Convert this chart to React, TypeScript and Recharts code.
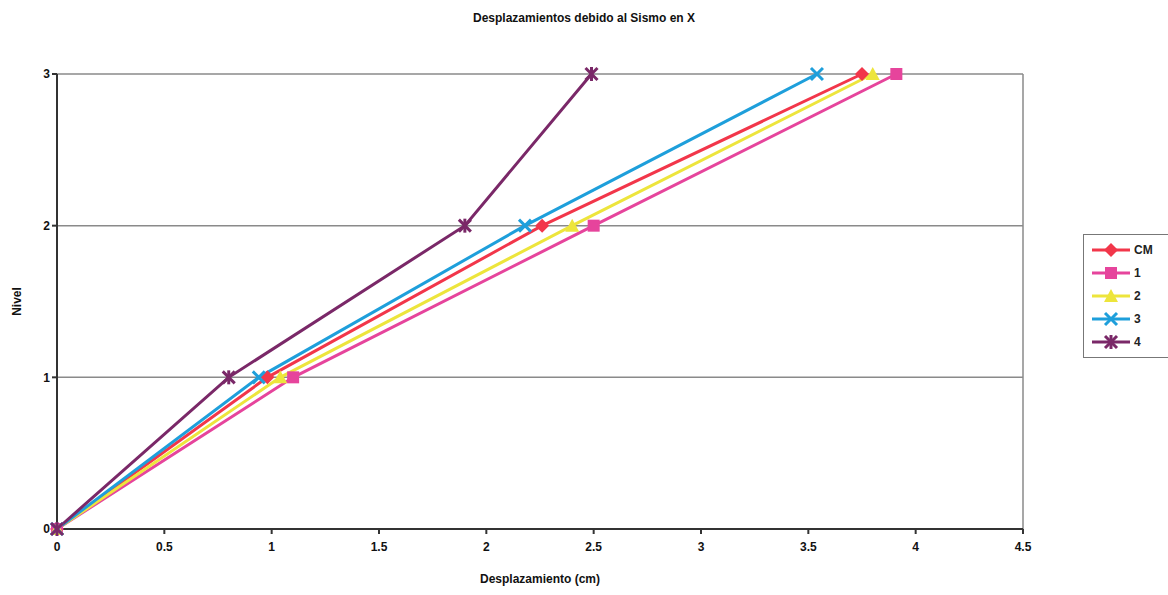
import React from 'react';
import { LineChart, Line, XAxis, YAxis, CartesianGrid, ReferenceLine, Label } from 'recharts';

const levels = [0, 1, 2, 3];
const cmValues = [0, 0.98, 2.26, 3.75];
const s1Values = [0, 1.1, 2.5, 3.91];
const s2Values = [0, 1.04, 2.4, 3.8];
const s3Values = [0, 0.94, 2.18, 3.54];
const s4Values = [0, 0.8, 1.9, 2.49];
const xTicks = [0, 0.5, 1, 1.5, 2, 2.5, 3, 3.5, 4, 4.5];

const toPoints = (vals: number[]) => vals.map((v, i) => ({ x: v, y: levels[i] }));

const series = [
  { name: 'CM', data: toPoints(cmValues), color: '#F2364A', marker: 'diamond' },
  { name: '1', data: toPoints(s1Values), color: '#E6449C', marker: 'square' },
  { name: '2', data: toPoints(s2Values), color: '#EDE53C', marker: 'triangle' },
  { name: '3', data: toPoints(s3Values), color: '#1E9FDB', marker: 'cross' },
  { name: '4', data: toPoints(s4Values), color: '#7A2868', marker: 'star' },
];

const font = '"Liberation Sans", Arial, sans-serif';

const Marker = ({ cx, cy, type, color }: { cx: number; cy: number; type: string; color: string }) => {
  if (cx == null || cy == null) return null;
  switch (type) {
    case 'diamond':
      return <polygon points={`${cx},${cy - 7} ${cx + 7},${cy} ${cx},${cy + 7} ${cx - 7},${cy}`} fill={color} />;
    case 'square':
      return <rect x={cx - 6} y={cy - 6} width={12} height={12} fill={color} />;
    case 'triangle':
      return <polygon points={`${cx},${cy - 7} ${cx + 7},${cy + 6} ${cx - 7},${cy + 6}`} fill={color} />;
    case 'cross':
      return (
        <g stroke={color} strokeWidth={3}>
          <line x1={cx - 6} y1={cy - 6} x2={cx + 6} y2={cy + 6} />
          <line x1={cx - 6} y1={cy + 6} x2={cx + 6} y2={cy - 6} />
        </g>
      );
    default:
      return (
        <g stroke={color} strokeWidth={3}>
          <line x1={cx - 6} y1={cy - 6} x2={cx + 6} y2={cy + 6} />
          <line x1={cx - 6} y1={cy + 6} x2={cx + 6} y2={cy - 6} />
          <line x1={cx} y1={cy - 7} x2={cx} y2={cy + 7} />
        </g>
      );
  }
};

const LegendBox = () => (
  <div
    style={{
      position: 'absolute',
      left: 1083,
      top: 234,
      border: '1px solid #777',
      background: '#fff',
      padding: '3px 4px 4px 6px',
      width: 90,
      fontFamily: font,
      fontSize: 12,
      fontWeight: 'bold',
      color: '#222',
    }}
  >
    {series.map((s) => (
      <div key={s.name} style={{ display: 'flex', alignItems: 'center', height: 23 }}>
        <svg width={42} height={16}>
          <line x1={2} y1={8} x2={40} y2={8} stroke={s.color} strokeWidth={3} />
          <Marker cx={21} cy={8} type={s.marker} color={s.color} />
        </svg>
        <span style={{ marginLeft: 2 }}>{s.name}</span>
      </div>
    ))}
  </div>
);

export default function App() {
  return (
    <div style={{ position: 'absolute', left: 0, top: 0, width: 1168, height: 595, background: '#fff' }}>
      <div
        style={{
          position: 'absolute',
          top: 11,
          width: 1168,
          textAlign: 'center',
          fontFamily: font,
          fontWeight: 'bold',
          fontSize: 12,
          color: '#111',
        }}
      >
        Desplazamientos debido al Sismo en X
      </div>
      <LineChart width={1168} height={595} margin={{ top: 74, right: 145, left: 27, bottom: 36 }}>
        <CartesianGrid vertical={false} stroke="#8a8a8a" strokeWidth={1.5} />
        <ReferenceLine x={4.5} stroke="#8a8a8a" strokeWidth={1.5} />
        <XAxis
          type="number"
          dataKey="x"
          domain={[0, 4.5]}
          ticks={xTicks}
          height={30}
          stroke="#333"
          strokeWidth={2}
          tickSize={5}
          tick={{ fill: '#111', fontSize: 12, fontFamily: font, fontWeight: 'bold' }}
          tickMargin={8}
        >
          <Label
            value="Desplazamiento (cm)"
            position="insideBottom"
            offset={-24}
            style={{ fill: '#111', fontSize: 12, fontFamily: font, fontWeight: 'bold' }}
          />
        </XAxis>
        <YAxis
          type="number"
          dataKey="y"
          domain={[0, 3]}
          ticks={levels}
          width={30}
          stroke="#333"
          strokeWidth={2}
          tickSize={5}
          tick={{ fill: '#111', fontSize: 12, fontFamily: font, fontWeight: 'bold' }}
        >
          <Label
            value="Nivel"
            angle={-90}
            position="insideLeft"
            offset={-10}
            style={{ fill: '#111', fontSize: 12, fontFamily: font, fontWeight: 'bold', textAnchor: 'middle' }}
          />
        </YAxis>
        {series.map((s) => (
          <Line
            key={s.name}
            data={s.data}
            dataKey="y"
            name={s.name}
            type="linear"
            stroke={s.color}
            strokeWidth={3}
            isAnimationActive={false}
            dot={(p: any) => <Marker key={`${s.name}-${p.index}`} cx={p.cx} cy={p.cy} type={s.marker} color={s.color} />}
            activeDot={false}
          />
        ))}
      </LineChart>
      <LegendBox />
    </div>
  );
}
